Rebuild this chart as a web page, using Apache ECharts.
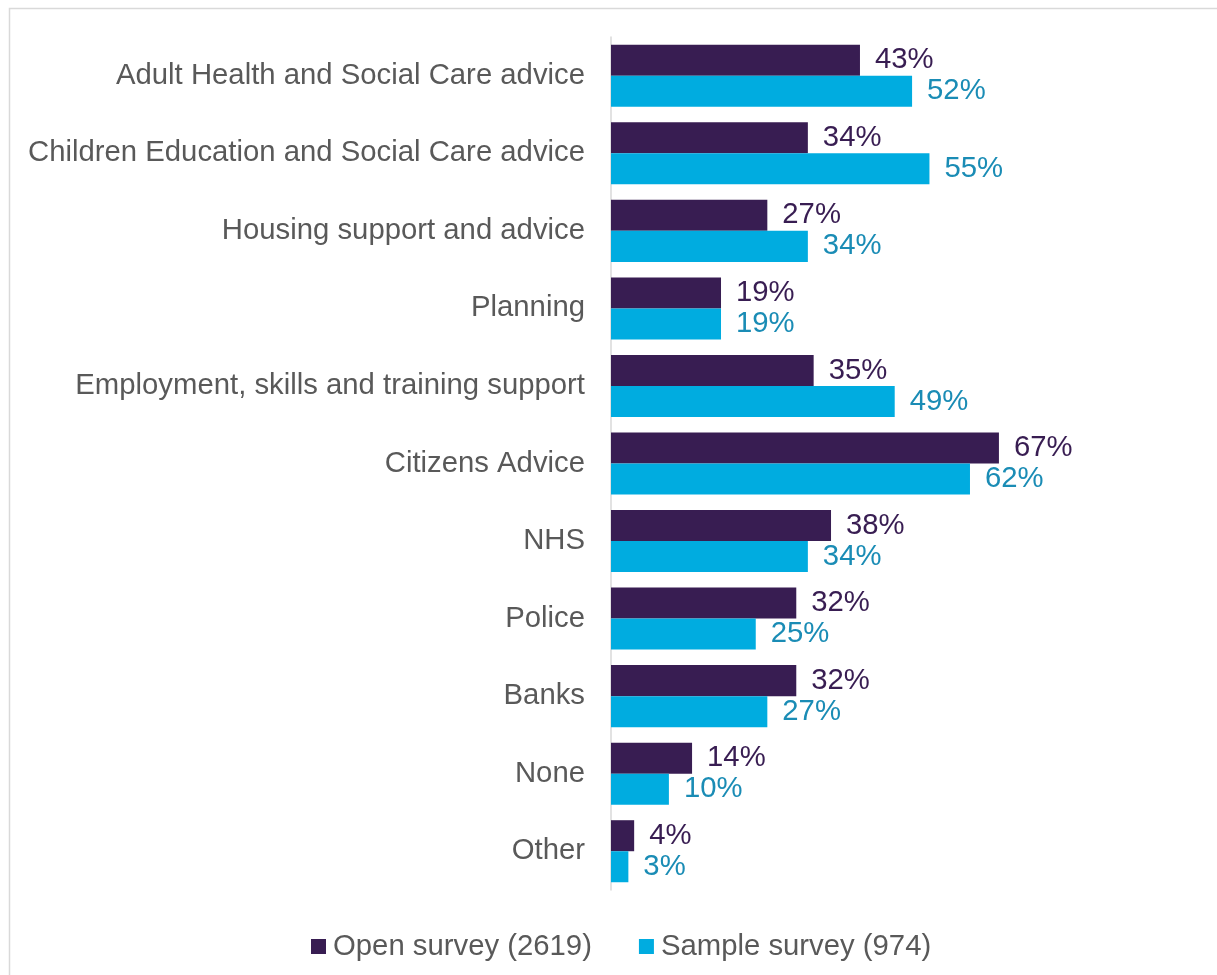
<!DOCTYPE html>
<html>
<head>
<meta charset="utf-8">
<script src="https://cdn.jsdelivr.net/npm/echarts@6/dist/echarts.min.js"></script>
<style>
  html, body { margin: 0; padding: 0; background: #ffffff; }
  #chart { width: 1217px; height: 975px; }
</style>
</head>
<body>
<div id="chart"></div>
<script>
// Services used, by survey
const categories = [
  'Adult Health and Social Care advice',
  'Children Education and Social Care advice',
  'Housing support and advice',
  'Planning',
  'Employment, skills and training support',
  'Citizens Advice',
  'NHS',
  'Police',
  'Banks',
  'None',
  'Other'
];
const openSurvey = [43, 34, 27, 19, 35, 67, 38, 32, 32, 14, 4];
const sampleSurvey = [52, 55, 34, 19, 49, 62, 34, 25, 27, 10, 3];
const seriesNames = ['Open survey (2619)', 'Sample survey (974)'];

const FONT = '"Liberation Sans", Arial, sans-serif';
const DARK = '#381d52';
const LIGHT = '#00ace0';
const FS = 29.3;

const chart = echarts.init(document.getElementById('chart'));
chart.setOption({
  animation: false,
  textStyle: { fontFamily: FONT },
  graphic: [{
    type: 'rect',
    shape: { x: 9.5, y: 8.5, width: 1400, height: 1100 },
    style: { fill: 'none', stroke: '#d9d9d9', lineWidth: 1.5 },
    silent: true
  }],
  grid: { left: 611, top: 37, width: 579, height: 853, containLabel: false },
  xAxis: {
    type: 'value',
    min: 0,
    max: 100,
    show: false,
    splitLine: { show: false }
  },
  yAxis: {
    type: 'category',
    data: categories,
    inverse: true,
    axisTick: { show: false },
    axisLine: { lineStyle: { color: '#d9d9d9', width: 1.5 } },
    axisLabel: { color: '#595959', fontSize: FS, margin: 26, fontFamily: FONT }
  },
  legend: {
    top: 927,
    left: 306,
    itemWidth: 15,
    itemHeight: 15,
    itemGap: 47,
    icon: 'rect',
    textStyle: { color: '#595959', fontSize: FS, fontFamily: FONT, padding: [0, 0, 0, 2] },
    data: seriesNames
  },
  series: [
    {
      name: seriesNames[0],
      type: 'bar',
      data: openSurvey,
      barGap: '0%',
      barCategoryGap: '20%',
      itemStyle: { color: DARK },
      label: {
        show: true,
        position: 'right',
        distance: 15,
        formatter: '{c}%',
        color: DARK,
        fontSize: FS,
        fontFamily: FONT
      }
    },
    {
      name: seriesNames[1],
      type: 'bar',
      data: sampleSurvey,
      barGap: '0%',
      barCategoryGap: '20%',
      itemStyle: { color: LIGHT },
      label: {
        show: true,
        position: 'right',
        distance: 15,
        formatter: '{c}%',
        color: '#1a8cb5',
        fontSize: FS,
        fontFamily: FONT
      }
    }
  ]
});
</script>
</body>
</html>
